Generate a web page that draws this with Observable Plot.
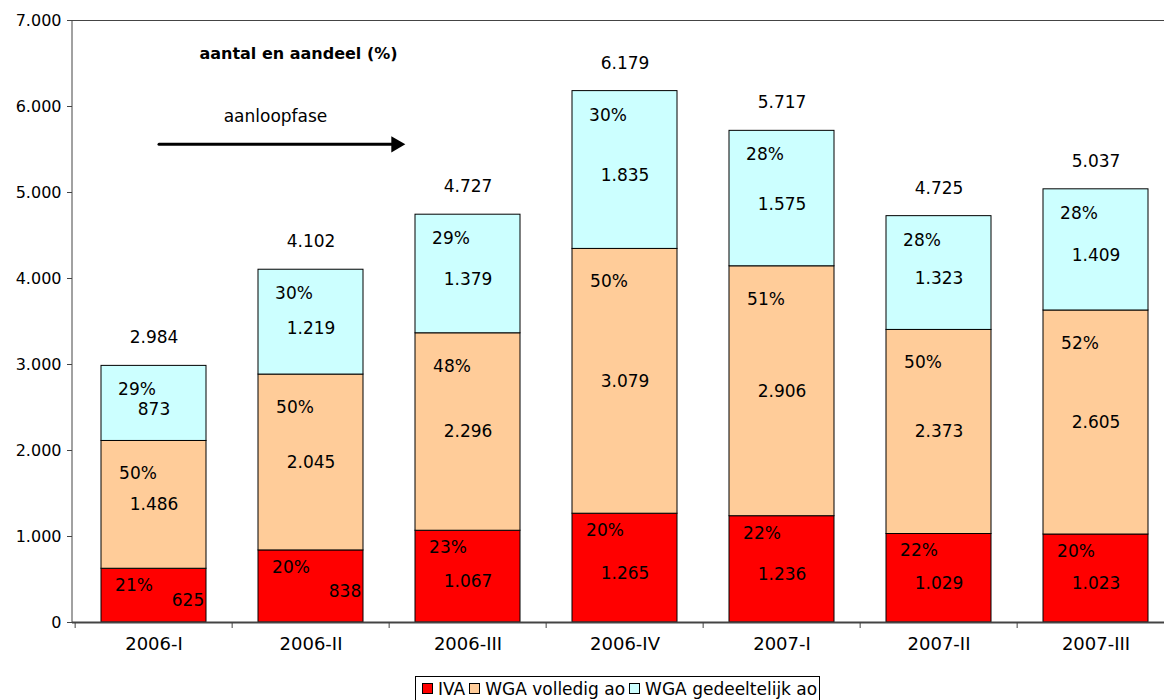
<!DOCTYPE html>
<html><head><meta charset="utf-8">
<script src="https://cdn.jsdelivr.net/npm/d3@7"></script>
<script src="https://cdn.jsdelivr.net/npm/@observablehq/plot@0.6"></script>
<style>
body{margin:0;background:#fff;font-family:"DejaVu Sans",Verdana,sans-serif;}
#chart{position:absolute;left:0;top:0;}
#legend{position:absolute;left:415px;top:676px;border:1px solid #000;padding:2px 2px 4px 6px;font-size:17px;line-height:20px;display:flex;gap:4px;white-space:nowrap;background:#fff;}
#legend span.sw{display:inline-block;width:9px;height:9px;border:1px solid #000;margin-right:5px;vertical-align:1px;}
</style></head><body><div id="chart"></div><div id="legend"></div>
<script>
const periods = ["2006-I","2006-II","2006-III","2006-IV","2007-I","2007-II","2007-III"];
const series = ["IVA","WGA volledig ao","WGA gedeeltelijk ao"];
const colors = ["#FF0000","#FFCC99","#CCFFFF"];
const iva = [625, 838, 1067, 1265, 1236, 1029, 1023];
const volledig = [1486, 2045, 2296, 3079, 2906, 2373, 2605];
const gedeeltelijk = [873, 1219, 1379, 1835, 1575, 1323, 1409];
const totals = [2984, 4102, 4727, 6179, 5717, 4725, 5037];
const pctIva = [21, 20, 23, 20, 22, 22, 20];
const pctVolledig = [50, 50, 48, 50, 51, 50, 52];
const pctGedeeltelijk = [29, 30, 29, 30, 28, 28, 28];
const yTicks = [0, 1000, 2000, 3000, 4000, 5000, 6000, 7000];
const titleText = "aantal en aandeel (%)";
const phaseText = "aanloopfase";
const phase = [{from: "2006-I", to: "2006-III", y: 5560}];

const nl = d3.formatLocale({decimal: ",", thousands: ".", grouping: [3], currency: ["€", ""]});
const fmt = nl.format(",d");

const rows = [];
periods.forEach((p, i) => {
  let base = 0;
  [[iva, pctIva], [volledig, pctVolledig], [gedeeltelijk, pctGedeeltelijk]].forEach(([v, pc], s) => {
    rows.push({period: p, series: series[s], y1: base, y2: base + v[i], value: v[i], pct: pc[i]});
    base += v[i];
  });
});
const totalRows = periods.map((p, i) => ({period: p, total: totals[i], top: iva[i] + volledig[i] + gedeeltelijk[i]}));

const W = 1164, left = 72, right = 1176;
const step = (right - left) / periods.length;
const labelStyle = {fontSize: 17, fill: "#000"};
// per-series label offsets (pixels)
const pctOffset = {"IVA": [-20, 17], "WGA volledig ao": [-16, 33], "WGA gedeeltelijk ao": [-17, 24]};
const valOffset = {"IVA": 5, "WGA volledig ao": 0, "WGA gedeeltelijk ao": 6};

const segMarks = [];
series.forEach(s => {
  const sub = rows.filter(d => d.series === s);
  segMarks.push(Plot.text(sub, {x: "period", y: "y2", text: d => d.pct + "%", dx: pctOffset[s][0], dy: pctOffset[s][1], ...labelStyle}));
  const small = sub.filter(d => s === "IVA" && d.value < 900);
  const normal = sub.filter(d => !(s === "IVA" && d.value < 900));
  segMarks.push(Plot.text(normal, {x: "period", y: d => (d.y1 + d.y2) / 2, text: d => fmt(d.value), dy: valOffset[s], ...labelStyle}));
  segMarks.push(Plot.text(small, {x: "period", y: d => (d.y1 + d.y2) / 2, text: d => fmt(d.value), dy: valOffset[s], dx: 34, ...labelStyle}));
});

const chart = Plot.plot({
  width: W, height: 668,
  marginTop: 20, marginBottom: 46, marginLeft: left, marginRight: 0,
  style: {fontFamily: "DejaVu Sans, Verdana, sans-serif", fontSize: "16px", color: "#000", background: "#fff", overflow: "hidden"},
  x: {type: "band", domain: periods, range: [left, right], paddingInner: 1/3, paddingOuter: 1/6, axis: null},
  y: {domain: [0, 7000], axis: null},
  color: {domain: series, range: colors},
  marks: [
    Plot.ruleY([7000], {stroke: "#444", strokeWidth: 1}),
    Plot.barY(rows, {x: "period", y1: "y1", y2: "y2", fill: "series", stroke: "#000", strokeWidth: 1}),
    Plot.axisY({ticks: yTicks, tickFormat: fmt, tickSize: 5, tickPadding: 6, fontSize: 16, stroke: "#444"}),
    Plot.ruleY([0], {stroke: "#444", strokeWidth: 2}),
    Plot.axisX({ticks: periods, tickSize: 6, tickFormat: () => "", dx: -step / 2, stroke: "#444"}),
    Plot.axisX({ticks: periods, tickSize: 0, tickPadding: 15, fontSize: 18}),
    Plot.text(totalRows, {x: "period", y: "top", text: d => fmt(d.total), dy: -28, ...labelStyle}),
    ...segMarks,
    Plot.text([titleText], {frameAnchor: "top-left", dx: 298 - left, dy: 33, textAnchor: "middle", lineAnchor: "middle", fontWeight: "bold", fontSize: 16, fill: "#000"}),
    Plot.text([phaseText], {frameAnchor: "top-left", dx: 275 - left, dy: 96, textAnchor: "middle", lineAnchor: "middle", fontSize: 17, fill: "#000"}),
    Plot.arrow(phase, {x1: "from", x2: "to", y1: "y", y2: "y", insetStart: 5, insetEnd: 76, stroke: "#000", strokeWidth: 3, headLength: 0}),
    Plot.dot(phase, {x: "to", y: "y", symbol: "triangle", rotate: 90, r: 6, dx: -72, fill: "#000", stroke: "none"})
  ]
});
document.getElementById("chart").appendChild(chart);
const svg = d3.select(chart);
// y axis line
svg.append("line").attr("x1", left).attr("x2", left).attr("y1", 20).attr("y2", 622).attr("stroke", "#444").attr("stroke-width", 1);

const legend = document.getElementById("legend");
series.forEach((s, i) => {
  const item = document.createElement("div");
  item.innerHTML = `<span class="sw" style="background:${colors[i]}"></span>${s}`;
  legend.appendChild(item);
});
</script>
</body></html>
